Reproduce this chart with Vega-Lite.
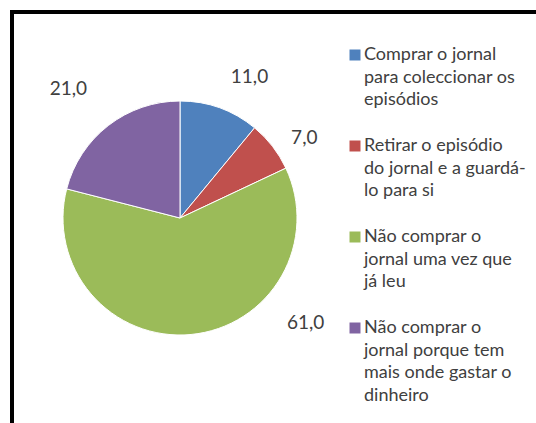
{
  "$schema": "https://vega.github.io/schema/vega-lite/v6.json",
  "width": 540,
  "height": 420,
  "autosize": "none",
  "padding": {"left": 12, "top": 12, "right": 0, "bottom": 0},
  "background": "#ffffff",
  "view": {"stroke": "#000000", "strokeWidth": 4, "fill": "#ffffff"},
  "config": {
    "view": {"stroke": "#000000", "strokeWidth": 4},
    "font": "Lato",
    "style": {"guide-label": {"lineHeight": 22.7}},
    "locale": {"number": {"decimal": ",", "thousands": ".", "grouping": [3], "currency": ["", " €"]}}
  },
  "data": {
    "values": [
      {"ordem": 1, "categoria": "Comprar o jornal|para coleccionar os|episódios", "valor": 11},
      {"ordem": 2, "categoria": "Retirar o episódio|do jornal e a guardá-|lo para si", "valor": 7},
      {"ordem": 3, "categoria": "Não comprar o|jornal uma vez que|já leu", "valor": 61},
      {"ordem": 4, "categoria": "Não comprar o|jornal porque tem|mais onde gastar o|dinheiro", "valor": 21}
    ]
  },
  "encoding": {
    "theta": {"field": "valor", "type": "quantitative", "stack": true},
    "order": {"field": "ordem", "type": "quantitative"}
  },
  "layer": [
    {
      "mark": {"type": "arc", "x": 168, "y": 206, "outerRadius": 117, "stroke": "#ffffff", "strokeWidth": 1},
      "encoding": {
        "color": {
          "field": "categoria",
          "type": "nominal",
          "scale": {
            "domain": [
              "Comprar o jornal|para coleccionar os|episódios",
              "Retirar o episódio|do jornal e a guardá-|lo para si",
              "Não comprar o|jornal uma vez que|já leu",
              "Não comprar o|jornal porque tem|mais onde gastar o|dinheiro"
            ],
            "range": ["#4F81BD", "#C0504D", "#9BBB59", "#8064A2"]
          },
          "legend": {
            "orient": "none",
            "legendX": 334,
            "legendY": 34,
            "title": null,
            "padding": 0,
            "symbolType": "square",
            "symbolSize": 121,
            "symbolStrokeWidth": 0,
            "labelExpr": "split(datum.label, '|')",
            "labelFont": "Lato",
            "labelFontSize": 18,
            "labelColor": "#404040",
            "labelLimit": 300,
            "labelOffset": 0,
            "rowPadding": 27,
            "encode": {"labels": {"lineHeight": {"value": 22.7}}}
          }
        }
      }
    },
    {
      "mark": {"type": "text", "x": 168, "y": 206, "radius": 150, "align": "left", "baseline": "middle", "fontSize": 19, "color": "#404040"},
      "encoding": {
        "text": {"condition": {"test": "datum.ordem == 1", "field": "valor", "type": "quantitative", "format": ".1f"}, "value": ""}
      }
    },
    {
      "mark": {"type": "text", "x": 168, "y": 206, "radius": 137, "thetaOffset": 0.035, "align": "left", "baseline": "middle", "fontSize": 19, "color": "#404040"},
      "encoding": {
        "text": {"condition": {"test": "datum.ordem == 2", "field": "valor", "type": "quantitative", "format": ".1f"}, "value": ""}
      }
    },
    {
      "mark": {"type": "text", "x": 168, "y": 206, "radius": 150, "thetaOffset": -0.7, "align": "left", "baseline": "middle", "fontSize": 19, "color": "#404040"},
      "encoding": {
        "text": {"condition": {"test": "datum.ordem == 3", "field": "valor", "type": "quantitative", "format": ".1f"}, "value": ""}
      }
    },
    {
      "mark": {"type": "text", "x": 168, "y": 206, "radius": 159, "thetaOffset": 0.035, "align": "right", "baseline": "middle", "fontSize": 19, "color": "#404040"},
      "encoding": {
        "text": {"condition": {"test": "datum.ordem == 4", "field": "valor", "type": "quantitative", "format": ".1f"}, "value": ""}
      }
    }
  ]
}
